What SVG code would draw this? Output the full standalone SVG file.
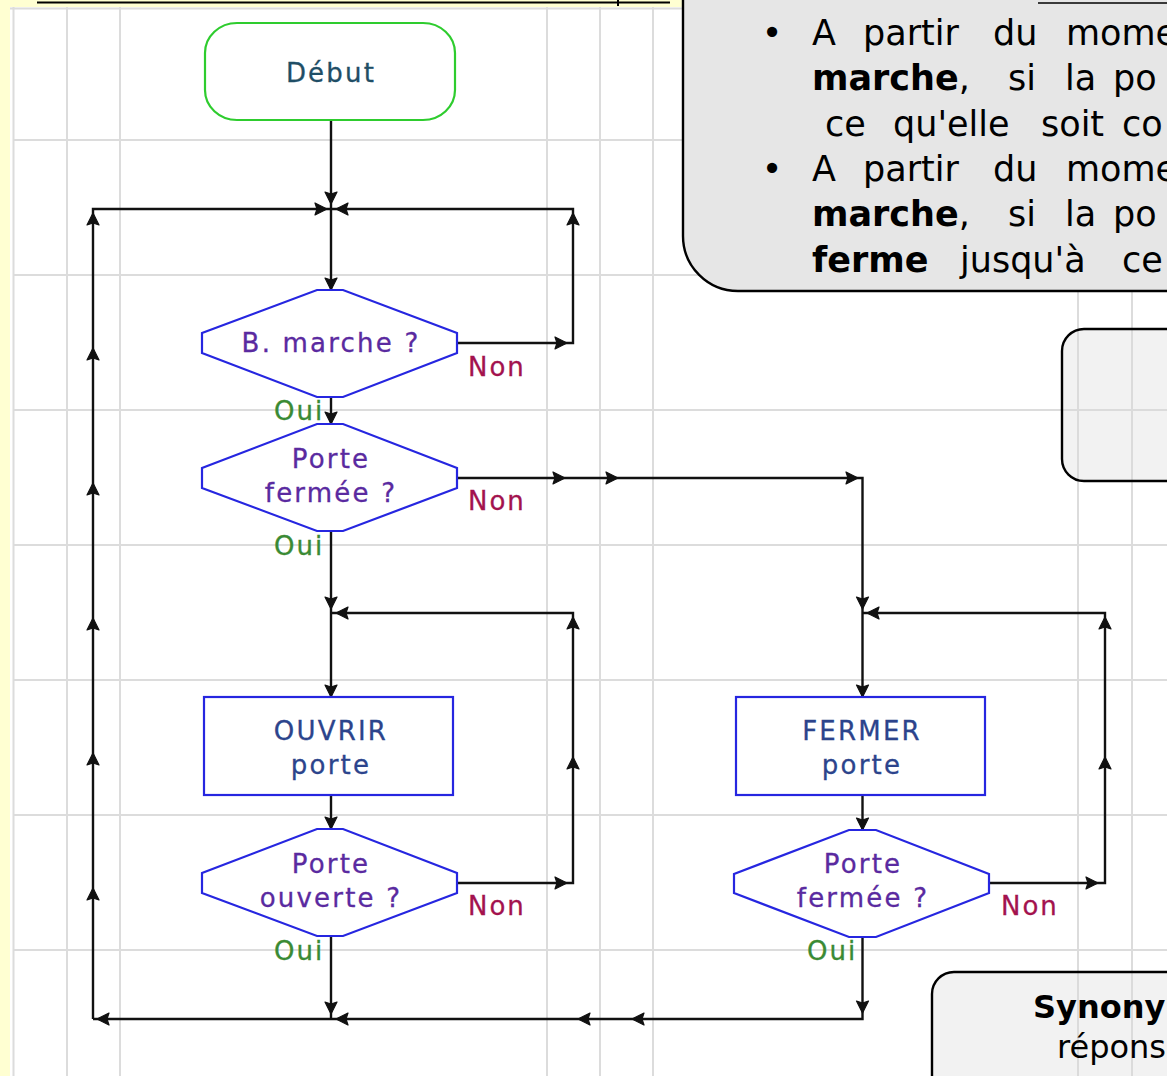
<svg xmlns="http://www.w3.org/2000/svg" xmlns:xlink="http://www.w3.org/1999/xlink" width="1167" height="1076" viewBox="0 0 1167 1076">
<style>
.grid{stroke:#DCDCDC;stroke-width:2;fill:none}
.ln{stroke:#111;stroke-width:2.4;fill:none}
.dia{fill:#fff;stroke:#2626E0;stroke-width:2.2}
.box{fill:#fff;stroke:#2626E0;stroke-width:2.2}
.ft{font-family:"DejaVu Sans",Verdana,sans-serif;font-size:26px;letter-spacing:2.2px;text-anchor:middle;stroke-width:0.3}
.q{fill:#5A2AA0;stroke:#5A2AA0}
.bx{fill:#2C448C;stroke:#2C448C}
.non{font-family:"DejaVu Sans",Verdana,sans-serif;font-size:26px;letter-spacing:2px;fill:#A3124E;stroke:#A3124E;stroke-width:0.3}
.oui{font-family:"DejaVu Sans",Verdana,sans-serif;font-size:26px;letter-spacing:2px;fill:#3A8A34;stroke:#3A8A34;stroke-width:0.3}
.tx{font-family:"DejaVu Sans",Verdana,sans-serif;font-size:35px;fill:#000}
.b{font-weight:bold}
.note{stroke:#000;stroke-width:2.4}
</style>
<defs>
<path id="ah" d="M0,0 L-12,-6 L-10,0 L-12,6 Z" fill="#111" stroke="#111" stroke-width="1.2" stroke-linejoin="round"/>
</defs>
<rect x="0" y="0" width="1167" height="1076" fill="#FFFFD2"/>
<rect x="10" y="7" width="1157" height="1069" fill="#fff"/>
<g id="grid" class="grid">
<line x1="10" y1="8.5" x2="1167" y2="8.5"/>
<line x1="13.5" y1="7" x2="13.5" y2="1076"/>
<line x1="67" y1="7" x2="67" y2="1076"/>
<line x1="120" y1="7" x2="120" y2="1076"/>
<line x1="547" y1="7" x2="547" y2="1076"/>
<line x1="600" y1="7" x2="600" y2="1076"/>
<line x1="653" y1="7" x2="653" y2="1076"/>
<line x1="1078" y1="7" x2="1078" y2="1076"/>
<line x1="1132" y1="7" x2="1132" y2="1076"/>
<line x1="13" y1="140" x2="1167" y2="140"/>
<line x1="13" y1="275" x2="1167" y2="275"/>
<line x1="13" y1="410" x2="1167" y2="410"/>
<line x1="13" y1="545" x2="1167" y2="545"/>
<line x1="13" y1="680" x2="1167" y2="680"/>
<line x1="13" y1="815" x2="1167" y2="815"/>
<line x1="13" y1="950" x2="1167" y2="950"/>
</g>
<line x1="37" y1="2.5" x2="670" y2="2.5" stroke="#000" stroke-width="2"/>
<line x1="618" y1="0" x2="618" y2="6" stroke="#000" stroke-width="2"/>

<g id="connectors">
<path class="ln" d="M331,120 V290"/>
<path class="ln" d="M93,1019 V209 H331"/>
<path class="ln" d="M457,343 H573 V209 H331"/>
<path class="ln" d="M331,397 V424"/>
<path class="ln" d="M457,478 H862.5 V697"/>
<path class="ln" d="M331,531 V697"/>
<path class="ln" d="M457,883 H573 V613 H331"/>
<path class="ln" d="M331,795 V829"/>
<path class="ln" d="M331,936 V1019"/>
<path class="ln" d="M989,883 H1105 V613 H862.5"/>
<path class="ln" d="M862.5,795 V830"/>
<path class="ln" d="M862.5,937 V1019 H93"/>
<use xlink:href="#ah" transform="translate(331,204) rotate(90)"/>
<use xlink:href="#ah" transform="translate(327,209)"/>
<use xlink:href="#ah" transform="translate(336,209) rotate(180)"/>
<use xlink:href="#ah" transform="translate(331,290) rotate(90)"/>
<use xlink:href="#ah" transform="translate(573,213) rotate(-90)"/>
<use xlink:href="#ah" transform="translate(567,343)"/>
<use xlink:href="#ah" transform="translate(331,424) rotate(90)"/>
<use xlink:href="#ah" transform="translate(565,478)"/>
<use xlink:href="#ah" transform="translate(618,478)"/>
<use xlink:href="#ah" transform="translate(858,478)"/>
<use xlink:href="#ah" transform="translate(331,609) rotate(90)"/>
<use xlink:href="#ah" transform="translate(336,613) rotate(180)"/>
<use xlink:href="#ah" transform="translate(573,617) rotate(-90)"/>
<use xlink:href="#ah" transform="translate(573,757) rotate(-90)"/>
<use xlink:href="#ah" transform="translate(331,697) rotate(90)"/>
<use xlink:href="#ah" transform="translate(331,829) rotate(90)"/>
<use xlink:href="#ah" transform="translate(567,883)"/>
<use xlink:href="#ah" transform="translate(331,1014) rotate(90)"/>
<use xlink:href="#ah" transform="translate(336,1019) rotate(180)"/>
<use xlink:href="#ah" transform="translate(97,1019) rotate(180)"/>
<use xlink:href="#ah" transform="translate(578,1019) rotate(180)"/>
<use xlink:href="#ah" transform="translate(632,1019) rotate(180)"/>
<use xlink:href="#ah" transform="translate(93,213) rotate(-90)"/>
<use xlink:href="#ah" transform="translate(93,348) rotate(-90)"/>
<use xlink:href="#ah" transform="translate(93,483) rotate(-90)"/>
<use xlink:href="#ah" transform="translate(93,618) rotate(-90)"/>
<use xlink:href="#ah" transform="translate(93,753) rotate(-90)"/>
<use xlink:href="#ah" transform="translate(93,888) rotate(-90)"/>
<use xlink:href="#ah" transform="translate(862.5,609) rotate(90)"/>
<use xlink:href="#ah" transform="translate(867,613) rotate(180)"/>
<use xlink:href="#ah" transform="translate(1105,617) rotate(-90)"/>
<use xlink:href="#ah" transform="translate(1105,757) rotate(-90)"/>
<use xlink:href="#ah" transform="translate(862.5,697) rotate(90)"/>
<use xlink:href="#ah" transform="translate(862.5,830) rotate(90)"/>
<use xlink:href="#ah" transform="translate(1098,883)"/>
<use xlink:href="#ah" transform="translate(862.5,1013) rotate(90)"/>
</g>

<g id="debut">
<rect x="205" y="23" width="250" height="97" rx="32" ry="30" fill="#fff" stroke="#2ECC2E" stroke-width="2.2"/>
<text class="ft" x="331" y="82" fill="#1F4E66" stroke="#1F4E66">Début</text>
</g>

<g id="dec-marche">
<polygon class="dia" points="317,290 343,290 457,333 457,353 343,397 317,397 202,353 202,333"/>
<text class="ft q" x="331" y="352">B. marche ?</text>
<text class="non" x="468" y="376">Non</text>
<text class="oui" x="274" y="420">Oui</text>
</g>

<g id="dec-fermee1">
<polygon class="dia" points="317,424 343,424 457,468 457,488 343,531 317,531 202,488 202,468"/>
<text class="ft q" x="331" y="468">Porte</text>
<text class="ft q" x="331" y="502">fermée ?</text>
<text class="non" x="468" y="510">Non</text>
<text class="oui" x="274" y="555">Oui</text>
</g>

<g id="ouvrir">
<rect class="box" x="204" y="697" width="249" height="98"/>
<text class="ft bx" x="331" y="740">OUVRIR</text>
<text class="ft bx" x="331" y="774">porte</text>
</g>

<g id="dec-ouverte">
<polygon class="dia" points="317,829 343,829 457,873 457,893 343,936 317,936 202,893 202,873"/>
<text class="ft q" x="331" y="873">Porte</text>
<text class="ft q" x="331" y="907">ouverte ?</text>
<text class="non" x="468" y="915">Non</text>
<text class="oui" x="274" y="960">Oui</text>
</g>

<g id="fermer">
<rect class="box" x="736" y="697" width="249" height="98"/>
<text class="ft bx" x="862" y="740">FERMER</text>
<text class="ft bx" x="862" y="774">porte</text>
</g>

<g id="dec-fermee2">
<polygon class="dia" points="849,830 876,830 989,874 989,893 876,937 849,937 734,893 734,874"/>
<text class="ft q" x="863" y="873">Porte</text>
<text class="ft q" x="863" y="907">fermée ?</text>
<text class="non" x="1001" y="915">Non</text>
<text class="oui" x="807" y="960">Oui</text>
</g>

<g id="note1">
<rect class="note" x="683" y="-60" width="600" height="351" rx="55" ry="55" fill="#E6E6E6"/>
<line x1="1038" y1="3" x2="1167" y2="3" stroke="#000" stroke-width="1.5"/>
<text class="tx" x="772" y="45" text-anchor="middle">•</text>
<text class="tx" x="812" y="45">A</text>
<text class="tx" x="863" y="45">partir</text>
<text class="tx" x="993" y="45">du</text>
<text class="tx" x="1066" y="45">mome</text>
<text class="tx" x="812" y="90"><tspan class="b">marche</tspan>,</text>
<text class="tx" x="1008" y="90">si</text>
<text class="tx" x="1065" y="90">la</text>
<text class="tx" x="1113" y="90">po</text>
<text class="tx" x="825" y="136">ce</text>
<text class="tx" x="893" y="136">qu'elle</text>
<text class="tx" x="1041" y="136">soit</text>
<text class="tx" x="1122" y="136">co</text>
<text class="tx" x="772" y="181" text-anchor="middle">•</text>
<text class="tx" x="812" y="181">A</text>
<text class="tx" x="863" y="181">partir</text>
<text class="tx" x="993" y="181">du</text>
<text class="tx" x="1066" y="181">mome</text>
<text class="tx" x="812" y="226"><tspan class="b">marche</tspan>,</text>
<text class="tx" x="1008" y="226">si</text>
<text class="tx" x="1065" y="226">la</text>
<text class="tx" x="1113" y="226">po</text>
<text class="tx b" x="812" y="272">ferme</text>
<text class="tx" x="960" y="272">jusqu'à</text>
<text class="tx" x="1122" y="272">ce</text>
</g>

<g id="note2">
<rect class="note" x="1062" y="329" width="300" height="152" rx="22" ry="22" fill="#DADADA" fill-opacity="0.35"/>
</g>

<g id="note3">
<rect class="note" x="932" y="972" width="400" height="200" rx="22" ry="22" fill="#DADADA" fill-opacity="0.35"/>
<text class="tx b" x="1033" y="1018" style="font-size:32px">Synony</text>
<text class="tx" x="1057" y="1058" style="font-size:32px">répons</text>
</g>
</svg>
